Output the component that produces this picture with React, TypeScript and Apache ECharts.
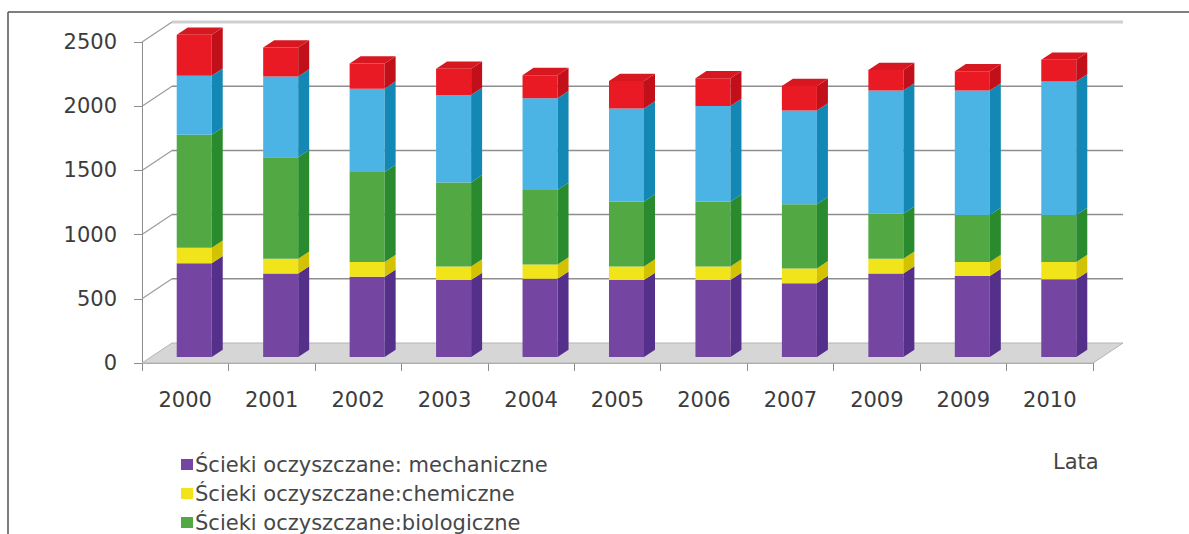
import React, { useEffect, useRef } from "react";
import * as echarts from "echarts";

// Years on the category axis (as printed, including the repeated 2009)
const years = ["2000", "2001", "2002", "2003", "2004", "2005", "2006", "2007", "2009", "2009", "2010"];

// Stacked components, bottom to top
const mechaniczne = [730, 650, 625, 600, 610, 600, 600, 575, 650, 630, 605];
const chemiczne = [120, 115, 115, 105, 110, 105, 105, 115, 115, 110, 135];
const biologiczne = [880, 790, 700, 655, 580, 505, 505, 500, 350, 365, 365];
const biogeny = [460, 630, 650, 680, 715, 725, 745, 730, 960, 970, 1040];
const nieoczyszczane = [320, 225, 195, 205, 180, 215, 215, 190, 160, 150, 170];

// Value-axis ticks
const yTicks = [0, 500, 1000, 1500, 2000, 2500];

const layers = [
  { name: "Ścieki oczyszczane: mechaniczne", values: mechaniczne, front: "#7446a2", side: "#55308a", top: "#8a5cb8" },
  { name: "Ścieki oczyszczane:chemiczne", values: chemiczne, front: "#f2e41a", side: "#d2c200", top: "#fff25a" },
  { name: "Ścieki oczyszczane:biologiczne", values: biologiczne, front: "#52a842", side: "#2a8a2e", top: "#6cc05a" },
  { name: "Ścieki oczyszczane: z podwyższonym usuwaniem biogenów", values: biogeny, front: "#4cb4e4", side: "#1488b4", top: "#7cccf0" },
  { name: "Ścieki nieoczyszczane", values: nieoczyszczane, front: "#ea1a24", side: "#c2101a", top: "#d81820" },
];

const FONT = "DejaVu Sans";
// depth of the 3D box (back wall offset) and of the bars
const DX = 30;
const DY = -20;
const BAR_F = 0.3; // depth position of bar front faces
const BDX = 11;
const BDY = -7.3;

export default function App() {
  const ref = useRef<HTMLDivElement>(null);

  useEffect(() => {
    if (!ref.current) return;
    const chart = echarts.init(ref.current, null, { renderer: "svg" });

    const frameSeries: any = {
      type: "custom",
      name: "frame",
      silent: true,
      z: 1,
      data: yTicks.map((v) => [0, v]),
      renderItem: (params: any, api: any) => {
        const cs = params.coordSys;
        const x0 = cs.x;
        const x1 = cs.x + cs.width;
        const v = api.value(1);
        const y = api.coord([0, v])[1];
        if (v === 0) {
          return {
            type: "polygon",
            shape: { points: [[x0, y], [x1, y], [x1 + DX, y + DY], [x0 + DX, y + DY]] },
            style: { fill: "#d6d6d6", stroke: "#b4b4b4", lineWidth: 1 },
          };
        }
        const isTop = v === yTicks[yTicks.length - 1];
        const col = isTop ? "#cfcfcf" : "#8e8e8e";
        return {
          type: "group",
          children: [
            { type: "line", shape: { x1: x0, y1: y, x2: x0 + DX, y2: y + DY }, style: { stroke: "#9a9a9a", lineWidth: 1.2 } },
            { type: "line", shape: { x1: x0 + DX, y1: y + DY, x2: x1 + DX, y2: y + DY }, style: { stroke: col, lineWidth: isTop ? 3 : 1.5 } },
          ],
        };
      },
    };

    const cumulative = years.map(() => 0);
    const barSeries = layers.map((layer, k) => {
      const data = layer.values.map((val, i) => {
        const base = cumulative[i];
        cumulative[i] = base + val;
        return [i, base, base + val];
      });
      const isTopLayer = k === layers.length - 1;
      return {
        type: "custom",
        name: layer.name,
        z: 2 + k,
        itemStyle: { color: layer.front },
        data,
        renderItem: (params: any, api: any) => {
          const i = api.value(0);
          const b = api.value(1);
          const t = api.value(2);
          const pb = api.coord([i, b]);
          const pt = api.coord([i, t]);
          const band = api.size([1, 0])[0];
          const w = band * 0.405;
          const cx = pb[0] + BAR_F * DX;
          const yb = pb[1] + BAR_F * DY;
          const yt = pt[1] + BAR_F * DY;
          const xl = cx - w / 2;
          const xr = cx + w / 2;
          const children: any[] = [
            { type: "rect", shape: { x: xl, y: yt, width: w, height: yb - yt }, style: { fill: layer.front } },
            {
              type: "polygon",
              shape: { points: [[xr, yb], [xr + BDX, yb + BDY], [xr + BDX, yt + BDY], [xr, yt]] },
              style: { fill: layer.side },
            },
          ];
          if (isTopLayer) {
            children.push({
              type: "polygon",
              shape: { points: [[xl, yt], [xr, yt], [xr + BDX, yt + BDY], [xl + BDX, yt + BDY]] },
              style: { fill: layer.top },
            });
          }
          return { type: "group", children };
        },
      };
    });

    chart.setOption({
      animation: false,
      backgroundColor: "#ffffff",
      grid: { left: 142, right: 96, top: 42, bottom: 171, containLabel: false },
      xAxis: {
        type: "category",
        data: years,
        boundaryGap: true,
        axisLine: { show: true, lineStyle: { color: "#a8a8a8", width: 1 } },
        axisTick: { show: true, length: 8, lineStyle: { color: "#8c8c8c" } },
        axisLabel: { interval: 0, margin: 26, fontFamily: FONT, fontSize: 21, color: "#3c3c3c" },
      },
      yAxis: {
        type: "value",
        min: 0,
        max: 2500,
        interval: 500,
        axisLine: { show: true, lineStyle: { color: "#8c8c8c", width: 1 } },
        axisTick: { show: true, length: 8, lineStyle: { color: "#8c8c8c" } },
        axisLabel: {
          margin: 25,
          fontFamily: FONT,
          fontSize: 21,
          color: "#3c3c3c",
          formatter: (v: number) => String(v),
        },
        splitLine: { show: false },
      },
      legend: {
        orient: "vertical",
        left: 176,
        top: 449,
        height: 140,
        itemWidth: 12,
        itemHeight: 11,
        itemGap: 8,
        icon: "rect",
        data: layers.slice(0, 3).map((l) => l.name),
        textStyle: { fontFamily: FONT, fontSize: 21, color: "#474747", padding: [0, 0, 0, -3] },
        selectedMode: false,
      },
      graphic: [
        { type: "line", shape: { x1: 8, y1: 12, x2: 1189, y2: 12 }, style: { stroke: "#555555", lineWidth: 1.5 } },
        { type: "line", shape: { x1: 8, y1: 12, x2: 8, y2: 534 }, style: { stroke: "#555555", lineWidth: 1.5 } },
        {
          type: "text",
          left: 1053,
          top: 451,
          style: { text: "Lata", fontFamily: FONT, fontSize: 21, fill: "#444444" },
        },
      ],
      series: [frameSeries, ...barSeries],
    });

    return () => chart.dispose();
  }, []);

  return (
    <div
      ref={ref}
      style={{ position: "absolute", left: 0, top: 0, width: 1189, height: 534 }}
    />
  );
}
